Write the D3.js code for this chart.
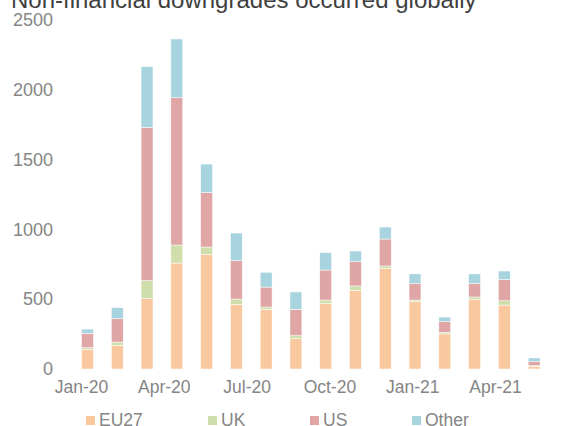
<!DOCTYPE html>
<html>
<head>
<meta charset="utf-8">
<script src="https://cdn.jsdelivr.net/npm/d3@7"></script>
<style>
  body { margin: 0; background: #fff; }
  text { font-family: "Liberation Sans", Arial, sans-serif; }
</style>
</head>
<body>
<script>
// monthly downgrade counts by region
var months = ["Jan-20","Feb-20","Mar-20","Apr-20","May-20","Jun-20","Jul-20","Aug-20",
              "Sep-20","Oct-20","Nov-20","Dec-20","Jan-21","Feb-21","Mar-21","Apr-21"];
var eu27  = [141, 170, 504, 759, 821, 463, 428, 217, 468, 564, 719, 482, 251, 499, 458, 19];
var uk    = [ 12,  23, 129, 129,  53,  38,  16,  22,  26,  31,  19,  12,  12,  17,  31,  5];
var us    = [102, 167,1098,1055, 389, 275, 143, 189, 215, 174, 193, 117,  76,  95, 151, 28];
var other = [ 31,  79, 435, 421, 205, 198, 106, 124, 124,  76,  86,  70,  33,  70,  62, 27];
var seriesNames = ["EU27", "UK", "US", "Other"];
var yTicks = [0, 500, 1000, 1500, 2000, 2500];
var xTickLabels = ["Jan-20", "Apr-20", "Jul-20", "Oct-20", "Jan-21", "Apr-21"];

var colors = {"EU27": "#f9c89f", "UK": "#cfdeab", "US": "#e0a5a5", "Other": "#a8d4e0"};

var W = 562, H = 426;

var svg = d3.select("body").append("svg")
    .attr("width", W)
    .attr("height", H);

var table = months.map(function(m, i) {
  return {month: m, EU27: eu27[i], UK: uk[i], US: us[i], Other: other[i]};
});
var stacked = d3.stack().keys(seriesNames)(table);

var x = d3.scaleBand().domain(months).range([72.6, 549]).paddingInner(0.6).paddingOuter(0.3);
var y = d3.scaleLinear().domain([0, 2500]).range([369, 20]);
// excel puts the date labels on its own spacing
var xLab = d3.scalePoint().domain(xTickLabels).range([81, 495]);

svg.append("text")
    .attr("x", 11)
    .attr("y", 8)
    .attr("fill", "#404040")
    .style("font-size", "24px")
    .text("Non-financial downgrades occurred globally");

svg.append("g").selectAll("g")
    .data(stacked)
  .enter().append("g")
    .attr("fill", function(d) { return colors[d.key]; })
  .selectAll("rect")
    .data(function(d) { return d; })
  .enter().append("rect")
    .attr("x", function(d) { return x(d.data.month); })
    .attr("width", x.bandwidth())
    .attr("y", function(d) { return y(d[1]); })
    .attr("height", function(d) { return y(d[0]) - y(d[1]); })
    .attr("stroke", "#fff")
    .attr("stroke-width", 0.5);

var yAxis = svg.append("g")
    .attr("transform", "translate(60,0)")
    .call(d3.axisLeft(y).tickValues(yTicks).tickFormat(d3.format("d")).tickSize(0).tickPadding(7));
yAxis.select(".domain").remove();
yAxis.selectAll("text")
    .attr("fill", "#858585")
    .style("font-size", "18px");

var xAxis = svg.append("g")
    .attr("transform", "translate(0,375)")
    .call(d3.axisBottom(xLab).tickSize(0).tickPadding(6));
xAxis.select(".domain").remove();
xAxis.selectAll("text")
    .attr("fill", "#858585")
    .style("font-size", "17.5px");

var legendX = [86, 208, 310, 412];
var legend = svg.append("g").selectAll("g")
    .data(seriesNames)
  .enter().append("g")
    .attr("transform", function(d, i) { return "translate(" + legendX[i] + ",416)"; });
legend.append("rect")
    .attr("width", 9)
    .attr("height", 9)
    .attr("fill", function(d) { return colors[d]; });
legend.append("text")
    .attr("x", 13)
    .attr("y", 9.5)
    .attr("fill", "#858585")
    .style("font-size", "17.5px")
    .text(function(d) { return d; });
</script>
</body>
</html>
